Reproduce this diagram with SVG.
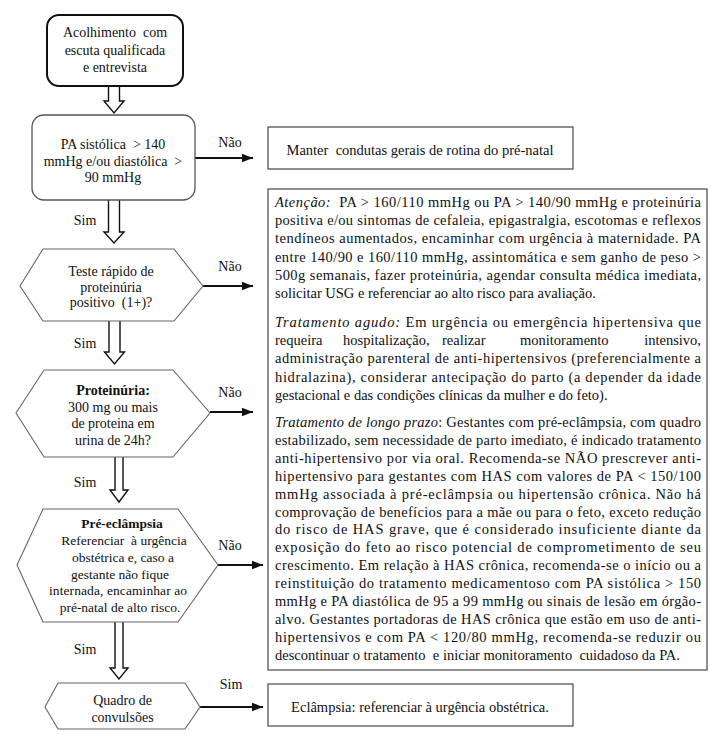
<svg xmlns="http://www.w3.org/2000/svg" width="710" height="735" viewBox="0 0 710 735">
<defs>
<style>
text{font-family:"Liberation Serif","Times New Roman",serif;fill:#111;}
.n{font-size:14px;text-anchor:middle;}
.h3{font-size:13.5px;text-anchor:middle;}
.b{font-size:14.5px;}
.lbl{font-size:14px;text-anchor:middle;}
.i{font-style:italic;}
.bold{font-weight:bold;}
.box{fill:#fff;stroke:#555;stroke-width:1.3;}
.hex{fill:#fff;stroke:#666;stroke-width:1.1;}
.ha{fill:#fff;stroke:#111;stroke-width:1.4;stroke-linejoin:miter;}
.con{stroke:#111;stroke-width:2;fill:none;marker-end:url(#ah);}
</style>
<marker id="ah" markerUnits="userSpaceOnUse" markerWidth="12" markerHeight="10" refX="11" refY="5" orient="auto">
<path d="M0,0.8 L11,5 L0,9.2 Z" fill="#111"/>
</marker>
</defs>
<rect width="710" height="735" fill="#fff"/>

<g id="connectors">
<path class="ha" d="M108.5,86 V101 H104 L114,113 L124,101 H119.5 V86"/>
<path class="ha" d="M108.5,200 V232 H104 L114,243 L124,232 H119.5 V200"/>
<path class="ha" d="M109,321 V352 H104.5 L114.5,364 L124.5,352 H120 V321"/>
<path class="ha" d="M115,457 V490 H110 L119,502 L128,490 H123 V457"/>
<path class="ha" d="M115,622 V668 H110 L119,679 L128,668 H123 V622"/>
<line class="con" x1="195" y1="158" x2="253" y2="158"/>
<line class="con" x1="203" y1="286" x2="253" y2="286"/>
<line class="con" x1="210" y1="412" x2="253" y2="412"/>
<line class="con" x1="218" y1="565" x2="263" y2="565"/>
<line class="con" x1="200" y1="707" x2="263" y2="707"/>
<text class="lbl" x="230" y="147">Não</text>
<text class="lbl" x="230" y="271">Não</text>
<text class="lbl" x="230" y="397">Não</text>
<text class="lbl" x="230" y="550">Não</text>
<text class="lbl" x="231" y="689">Sim</text>
<text class="lbl" x="85" y="225">Sim</text>
<text class="lbl" x="85" y="348">Sim</text>
<text class="lbl" x="85" y="487">Sim</text>
<text class="lbl" x="85" y="654">Sim</text>
</g>

<g id="n1">
<rect x="47" y="15" width="136" height="71" rx="12" fill="#fff" stroke="#111" stroke-width="2"/>
<text class="n" x="115" y="37" xml:space="preserve">Acolhimento  com</text>
<text class="n" x="115" y="55">escuta qualificada</text>
<text class="n" x="115" y="72">e entrevista</text>
</g>

<g id="n2">
<rect class="box" x="32" y="115" width="163" height="85" rx="12"/>
<text class="n" x="113" y="148.5" xml:space="preserve">PA sistólica  &gt; 140</text>
<text class="n" x="113" y="165.5" xml:space="preserve">mmHg e/ou diastólica  &gt;</text>
<text class="n" x="113" y="182">90 mmHg</text>
</g>

<g id="n3">
<polygon class="hex" points="20,286 43,249 174,249 203,286 174,321 43,321"/>
<text class="n" x="111" y="276">Teste rápido de</text>
<text class="n" x="111" y="291.5">proteinúria</text>
<text class="n" x="111" y="307" xml:space="preserve">positivo  (1+)?</text>
</g>

<g id="n4">
<polygon class="hex" points="16,413 44,370 173,370 210,413 173,457 44,457"/>
<text class="n bold" x="113" y="395">Proteinúria:</text>
<text class="n" x="113" y="411.5">300 mg ou mais</text>
<text class="n" x="113" y="428">de proteina em</text>
<text class="n" x="113" y="444.5">urina de 24h?</text>
</g>

<g id="n5">
<polygon class="hex" points="17,565 43,509 178,509 218,565 178,622 43,622"/>
<text class="h3 bold" x="122" y="528">Pré-eclâmpsia</text>
<text class="h3" x="124" y="545" xml:space="preserve">Referenciar  à urgência</text>
<text class="h3" x="123" y="562">obstétrica e, caso a</text>
<text class="h3" x="120" y="578.5">gestante não fique</text>
<text class="h3" x="118" y="595" textLength="138" lengthAdjust="spacing">internada, encaminhar ao</text>
<text class="h3" x="120" y="612">pré-natal de alto risco.</text>
</g>

<g id="n6">
<polygon class="hex" points="45,707 58,683 185,683 200,707 185,729 58,729"/>
<text class="n" x="122.5" y="704.5">Quadro de</text>
<text class="n" x="122.5" y="721.5">convulsões</text>
</g>

<g id="n7">
<rect class="box" x="268" y="127" width="305" height="42"/>
<text class="b" x="420" y="155" text-anchor="middle" xml:space="preserve">Manter  condutas gerais de rotina do pré-natal</text>
</g>

<g id="n8">
<rect class="box" x="268" y="189" width="439" height="481"/>
<text class="b" x="275" y="207" textLength="426" lengthAdjust="spacing" xml:space="preserve"><tspan class="i">Atenção:</tspan>  PA &gt; 160/110 mmHg ou PA &gt; 140/90 mmHg e proteinúria</text>
<text class="b" x="275" y="225.2" textLength="426" lengthAdjust="spacing">positiva e/ou sintomas de cefaleia, epigastralgia, escotomas e reflexos</text>
<text class="b" x="275" y="243.4" textLength="426" lengthAdjust="spacing">tendíneos aumentados, encaminhar com urgência à maternidade. PA</text>
<text class="b" x="275" y="261.6" textLength="426" lengthAdjust="spacing">entre 140/90 e 160/110 mmHg, assintomática e sem ganho de peso &gt;</text>
<text class="b" x="275" y="279.8" textLength="426" lengthAdjust="spacing">500g semanais, fazer proteinúria, agendar consulta médica imediata,</text>
<text class="b" x="275" y="298">solicitar USG e referenciar ao alto risco para avaliação.</text>

<text class="b" x="275" y="327" textLength="426" lengthAdjust="spacing"><tspan class="i">Tratamento agudo:</tspan> Em urgência ou emergência hipertensiva que</text>
<text class="b" x="275" y="345.2">requeira</text>
<text class="b" x="343" y="345.2">hospitalização,</text>
<text class="b" x="442" y="345.2">realizar</text>
<text class="b" x="520" y="345.2">monitoramento</text>
<text class="b" x="701" y="345.2" text-anchor="end">intensivo,</text>
<text class="b" x="275" y="363.4" textLength="426" lengthAdjust="spacing">administração parenteral de anti-hipertensivos (preferencialmente a</text>
<text class="b" x="275" y="381.6" textLength="426" lengthAdjust="spacing">hidralazina), considerar antecipação do parto (a depender da idade</text>
<text class="b" x="275" y="399.8">gestacional e das condições clínicas da mulher e do feto).</text>

<text class="b" x="275" y="427" textLength="426" lengthAdjust="spacing"><tspan class="i">Tratamento de longo prazo</tspan>: Gestantes com pré-eclâmpsia, com quadro</text>
<text class="b" x="275" y="444.9" textLength="426" lengthAdjust="spacing">estabilizado, sem necessidade de parto imediato, é indicado tratamento</text>
<text class="b" x="275" y="462.8" textLength="426" lengthAdjust="spacing">anti-hipertensivo por via oral. Recomenda-se NÃO prescrever anti-</text>
<text class="b" x="275" y="480.7" textLength="426" lengthAdjust="spacing">hipertensivo para gestantes com HAS com valores de PA &lt; 150/100</text>
<text class="b" x="275" y="498.6" textLength="426" lengthAdjust="spacing">mmHg associada à pré-eclâmpsia ou hipertensão crônica. Não há</text>
<text class="b" x="275" y="516.5" textLength="426" lengthAdjust="spacing">comprovação de benefícios para a mãe ou para o feto, exceto redução</text>
<text class="b" x="275" y="534.4" textLength="426" lengthAdjust="spacing">do risco de HAS grave, que é considerado insuficiente diante da</text>
<text class="b" x="275" y="552.3" textLength="426" lengthAdjust="spacing">exposição do feto ao risco potencial de comprometimento de seu</text>
<text class="b" x="275" y="570.2" textLength="426" lengthAdjust="spacing">crescimento. Em relação à HAS crônica, recomenda-se o início ou a</text>
<text class="b" x="275" y="588.1" textLength="426" lengthAdjust="spacing">reinstituição do tratamento medicamentoso com PA sistólica &gt; 150</text>
<text class="b" x="275" y="606" textLength="426" lengthAdjust="spacing">mmHg e PA diastólica de 95 a 99 mmHg ou sinais de lesão em órgão-</text>
<text class="b" x="275" y="623.9" textLength="426" lengthAdjust="spacing">alvo. Gestantes portadoras de HAS crônica que estão em uso de anti-</text>
<text class="b" x="275" y="641.8" textLength="426" lengthAdjust="spacing">hipertensivos e com PA &lt; 120/80 mmHg, recomenda-se reduzir ou</text>
<text class="b" x="275" y="659.7" xml:space="preserve">descontinuar o tratamento  e iniciar monitoramento  cuidadoso da PA.</text>
</g>

<g id="n9">
<rect class="box" x="268" y="684" width="305" height="42"/>
<text class="b" x="420" y="712" text-anchor="middle">Eclâmpsia: referenciar à urgência obstétrica.</text>
</g>
</svg>
